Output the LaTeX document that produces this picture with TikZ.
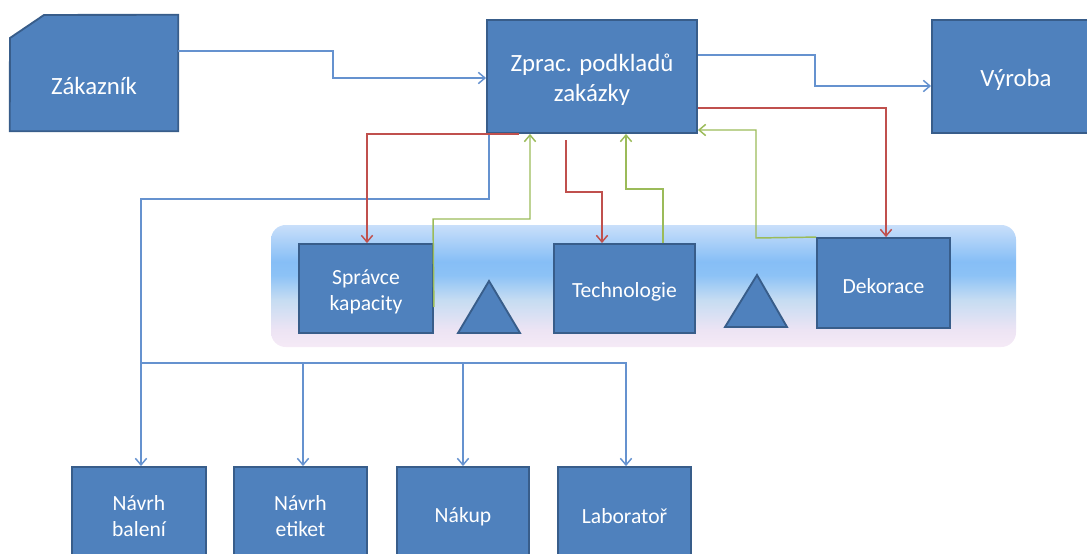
\documentclass[tikz,border=0pt]{standalone}
\usepackage{fontspec}
\setmainfont{Carlito}
\usetikzlibrary{arrows.meta}
\definecolor{boxfill}{HTML}{4F81BD}
\definecolor{boxline}{HTML}{385D8A}
\definecolor{lblue}{HTML}{6592CF}
\definecolor{lred}{HTML}{C0504D}
\definecolor{lgreen}{HTML}{9BBB59}
\definecolor{bA}{HTML}{C9DFFA}
\definecolor{bB}{HTML}{86BEF6}
\definecolor{bC}{HTML}{8CC2F6}
\definecolor{bD}{HTML}{C5DCF2}
\definecolor{bE}{HTML}{EDE4F4}
\definecolor{bF}{HTML}{F5EAF6}
\pgfdeclareverticalshading{bandshade}{100bp}{color(0bp)=(bF); color(25bp)=(bF); color(32bp)=(bE); color(44.5bp)=(bD); color(54.5bp)=(bC); color(60bp)=(bB); color(75bp)=(bA); color(100bp)=(bA)}
\tikzset{
  box/.style 2 args={fill=boxfill, draw=boxline, line width=1.4pt, inner sep=0pt,
    minimum width=#1*0.75pt, minimum height=#2*0.75pt},
  txt/.style={text=white, align=center, inner sep=0pt, yshift=-2.5pt},
  big/.style={font=\fontsize{18.6}{22.5}\selectfont},
  small/.style={font=\fontsize{16.2}{19.5}\selectfont},
  tip/.style={-{Straight Barb[length=5pt,width=8.5pt]}},
  bl/.style={draw=lblue, line width=1.1pt, tip},
  rl/.style={draw=lred, line width=1.1pt, tip},
  gl/.style={draw=lgreen, line width=1.1pt, tip},
  tri/.style={fill=boxfill, draw=boxline, line width=1.4pt, line join=miter},
}
\begin{document}
\begin{tikzpicture}[x=0.75pt,y=-0.75pt]
\useasboundingbox (0,0) rectangle (1087,553);
\clip (0,0) rectangle (1087,553);
% band
\shade[shading=bandshade, rounded corners=11pt] (271,225) rectangle (1016,347);
% customer (snipped corner)
\node[inner sep=0pt, minimum width=126pt, minimum height=87pt] (zak) at (94,73) {};
\fill[boxfill, draw=boxline, line width=1.4pt] (10,38) -- (44,15) -- (zak.north east) -- (zak.south east) -- (zak.south west) -- cycle;
\node[text=white, big] (zaktext) at (94,86) {Zákazník};
% main boxes
\node[box={210}{113}, label={[txt,big]center:Zprac. podkladů\\zakázky}] (zpr) at (592,76.5) {};
\node[box={168}{113}, label={[txt,big]center:Výroba}] (vyr) at (1016,76.5) {};
\node[box={134}{89}, label={[txt,small]center:Správce\\kapacity}] (spr) at (366,288.5) {};
\node[box={141}{89}, label={[txt,small]center:Technologie}] (tech) at (624.5,288.5) {};
\node[box={133}{90}, label={[txt,small]center:Dekorace}] (dek) at (883.5,283) {};
\filldraw[tri] (458,333) -- (489,281) -- (520,333) -- cycle;
\filldraw[tri] (725,327) -- (757,275) -- (787,327) -- cycle;
\node[box={134}{92}, label={[txt,small]center:Návrh\\balení}] (nb) at (139,513) {};
\node[box={133}{92}, label={[txt,small]center:Návrh\\etiket}] (ne) at (300.5,513) {};
\node[box={132}{92}, label={[txt,small]center:Nákup}] (nk) at (463,513) {};
\node[box={133}{92}, label={[txt,small]center:Laboratoř}] (lab) at (624.5,513) {};
% blue connectors
\draw[bl] (zak.east |- 0,51) -- (333,51) -- (333,78) -- (zpr.west |- 0,78);
\draw[bl] (zpr.east |- 0,55) -- (815,55) -- (815,86) -- (vyr.west |- 0,86);
\draw[bl] (zpr.south -| 489,0) -- (489,199) -- (141,199) -- (nb.north -| 141,0);
\coordinate (bus) at (141,363);
\draw[bl] (bus) -| (ne.north -| 303,0);
\draw[bl] (bus) -| (nk.north -| 463,0);
\draw[bl] (bus) -| (lab.north -| 626,0);
% red connectors
\draw[rl] (zpr.south -| 519,0) -| (spr.north -| 367,0);
\coordinate (r2) at (566,140);
\draw[rl] (r2) -- (566,192) -| (tech.north -| 602,0);
\draw[rl] (zpr.east |- 0,108) -| (dek.north -| 886,0);
% green connectors
\draw[gl] (spr.east |- 0,307) -- (433,219) -| (zpr.south -| 530,0);
\draw[gl] (tech.north -| 663,0) -- (663,189) -| (zpr.south -| 626,0);
\draw[gl] (dek.north west) -- (756,238) -- (756,130) -- (zpr.east |- 0,130);
\end{tikzpicture}
\end{document}
